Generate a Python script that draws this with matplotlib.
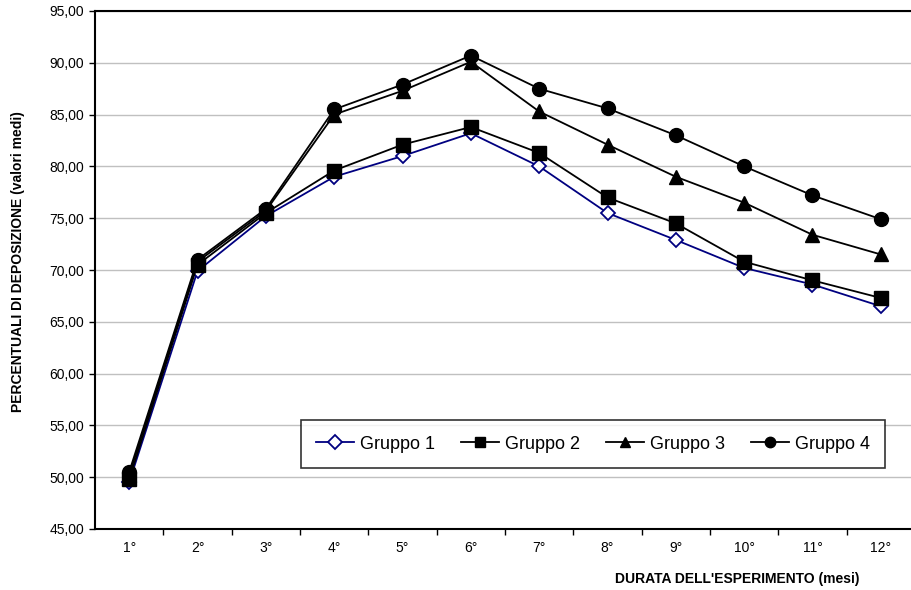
import matplotlib
matplotlib.use("Agg")
import matplotlib.pyplot as plt

plt.rcParams['font.family'] = ['Liberation Sans', 'DejaVu Sans']

# Data
mesi = ["1°", "2°", "3°", "4°", "5°", "6°", "7°", "8°", "9°", "10°", "11°", "12°"]
gruppo1 = [49.5, 69.9, 75.2, 79.0, 81.0, 83.2, 80.0, 75.5, 72.9, 70.2, 68.6, 66.5]
gruppo2 = [49.8, 70.5, 75.5, 79.6, 82.1, 83.8, 81.3, 77.0, 74.5, 70.8, 69.0, 67.3]
gruppo3 = [50.2, 70.8, 75.7, 85.0, 87.3, 90.1, 85.3, 82.1, 79.0, 76.5, 73.4, 71.5]
gruppo4 = [50.5, 71.0, 75.9, 85.5, 87.9, 90.7, 87.5, 85.6, 83.0, 80.0, 77.2, 74.9]
yticks = [45, 50, 55, 60, 65, 70, 75, 80, 85, 90, 95]

fig = plt.figure(figsize=(9.12, 5.90), dpi=100)
ax = fig.add_axes([95 / 912, 1 - 529 / 590, 820 / 912, 518 / 590])

x = list(range(len(mesi)))
ax.plot(x, gruppo1, color="#000080", lw=1.3, marker="D", ms=7.5,
        mfc="white", mec="#000080", mew=1.3, label="Gruppo 1", zorder=3)
ax.plot(x, gruppo2, color="black", lw=1.3, marker="s", ms=9.5,
        label="Gruppo 2", zorder=4)
ax.plot(x, gruppo3, color="black", lw=1.3, marker="^", ms=10.5,
        label="Gruppo 3", zorder=5)
ax.plot(x, gruppo4, color="black", lw=1.3, marker="o", ms=10,
        label="Gruppo 4", zorder=6)

ax.set_xlim(-0.5, len(mesi) - 0.5)
ax.set_ylim(45, 95)
ax.set_yticks(yticks)
ax.set_yticklabels(["%d,00" % v for v in yticks], fontsize=10)
ax.yaxis.grid(True, color="#c0c0c0", lw=1)
ax.set_axisbelow(True)

# category labels between boundary ticks
ax.set_xticks([i + 0.5 for i in range(len(mesi) - 1)])
ax.set_xticklabels([])
ax.set_xticks(x, minor=True)
ax.set_xticklabels(mesi, minor=True, fontsize=10)
ax.tick_params(axis="x", which="minor", length=0, pad=9)
ax.tick_params(axis="x", which="major", length=4, width=1, direction="out")
ax.tick_params(axis="y", length=4, width=1, direction="out", pad=4)

for s in ["left", "bottom", "top"]:
    ax.spines[s].set_linewidth(1.5)
ax.spines["right"].set_visible(False)

ax.set_ylabel("PERCENTUALI DI DEPOSIZIONE (valori medi)", fontsize=10,
              fontweight="bold")
ax.set_xlabel("DURATA DELL'ESPERIMENTO (mesi)", fontsize=10,
              fontweight="bold")
ax.xaxis.set_label_coords((737 - 95) / 820, -(572 - 529) / 518)
ax.yaxis.set_label_coords(-(95 - 25) / 820, (529 - 262) / 518)

leg = ax.legend(loc="lower left", bbox_to_anchor=((301 - 95) / 820, (529 - 468) / 518,
                                                  584 / 820, 61 / 518),
                mode="expand", ncol=4, fontsize=13, frameon=True, fancybox=False,
                edgecolor="black", handlelength=2.1, handletextpad=0.3,
                columnspacing=1.5, borderaxespad=0, borderpad=0.85)
leg.get_frame().set_linewidth(1.2)
for h in leg.legend_handles:
    h.set_markersize(7.5)

fig.savefig("out.png", dpi=100)
